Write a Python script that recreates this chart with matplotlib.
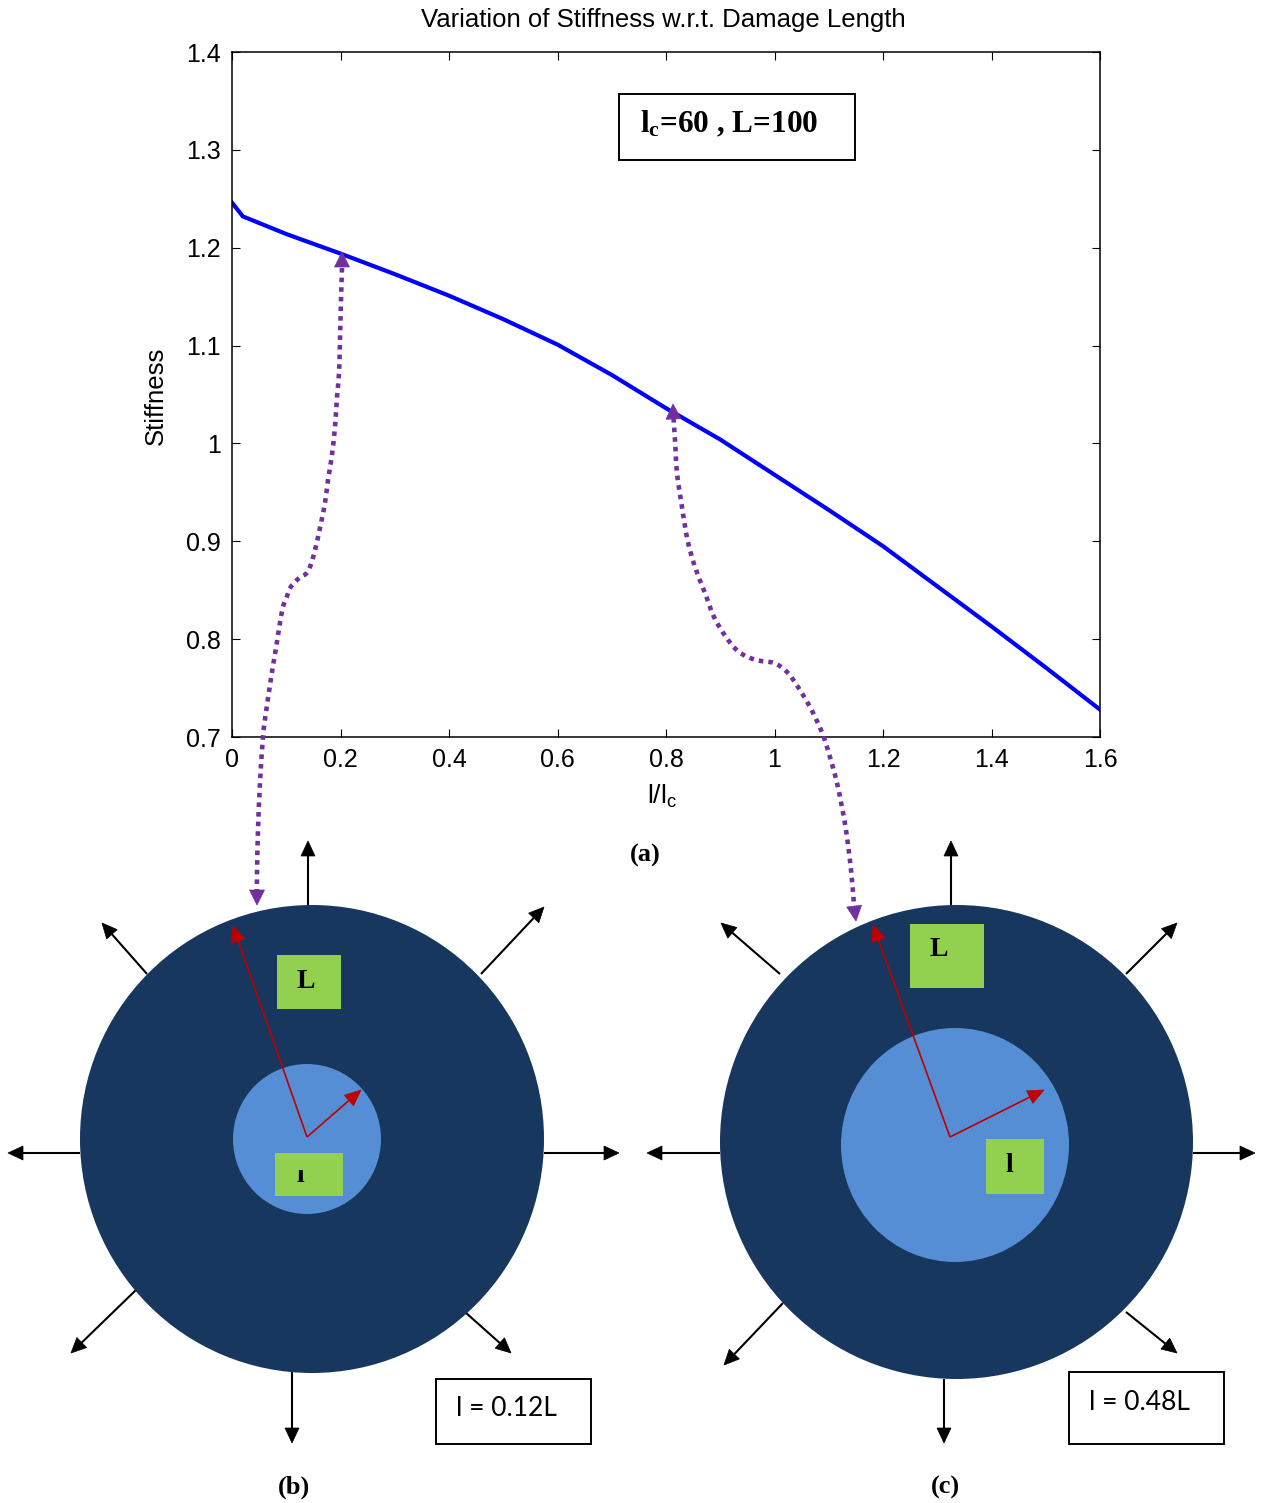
import numpy as np
import matplotlib
matplotlib.use("Agg")
import matplotlib.pyplot as plt
from matplotlib.patches import Ellipse, Rectangle, Polygon, PathPatch
from matplotlib.path import Path
from matplotlib.transforms import Bbox

plt.rcParams['font.family'] = ['Liberation Sans', 'DejaVu Sans']

# ---- stiffness curve -------------------------------------------------------
damage_ratio = [0.0, 0.02, 0.1, 0.2, 0.3, 0.4, 0.5, 0.6, 0.7, 0.8,
                0.9, 1.0, 1.1, 1.2, 1.3, 1.4, 1.5, 1.6]
stiffness = [1.246, 1.232, 1.214, 1.194, 1.173, 1.151, 1.127, 1.101, 1.070,
             1.036, 1.004, 0.968, 0.932, 0.895, 0.854, 0.813, 0.771, 0.728]

x_ticks = [0, 0.2, 0.4, 0.6, 0.8, 1.0, 1.2, 1.4, 1.6]
x_tick_labels = ["0", "0.2", "0.4", "0.6", "0.8", "1", "1.2", "1.4", "1.6"]
y_ticks = [0.7, 0.8, 0.9, 1.0, 1.1, 1.2, 1.3, 1.4]
y_tick_labels = ["0.7", "0.8", "0.9", "1", "1.1", "1.2", "1.3", "1.4"]

title_text = "Variation of Stiffness w.r.t. Damage Length"
case_text = ["l = 0.12L", "l = 0.48L"]
panel_text = ["(a)", "(b)", "(c)"]

# ---- figure ----------------------------------------------------------------
W, H = 1265, 1503
fig = plt.figure(figsize=(W / 100, H / 100), dpi=100)


def fbox(l, t, r, b):
    return [l / W, 1 - b / H, (r - l) / W, (b - t) / H]


ax = fig.add_axes(fbox(232, 52, 1100, 737))
ax.plot(damage_ratio, stiffness, color='#0000ff', lw=3.0, solid_joinstyle='round')
ax.set_xlim(0, 1.6)
ax.set_ylim(0.7, 1.4)
ax.set_xticks(x_ticks, x_tick_labels)
ax.set_yticks(y_ticks, y_tick_labels)
ax.tick_params(direction='in', length=6, width=0.8, top=True, right=True,
               labelsize=18, pad=8)
for s in ax.spines.values():
    s.set_linewidth(1.1)

fig.text(663 / W, 1 - 20 / H, title_text, ha='center', va='center', fontsize=18.5)
fig.text(156 / W, 1 - 396 / H, "Stiffness", ha='center', va='center',
         rotation=90, fontsize=18.5)
fig.text(662 / W, 1 - 796 / H, r"$\mathregular{l/l_c}$", ha='center',
         va='center', fontsize=19)

# ---- overlay in pixel units for the schematic drawings ---------------------
ov = fig.add_axes([0, 0, 1, 1], zorder=5)
ov.set_xlim(0, W)
ov.set_ylim(H, 0)
ov.axis('off')
ov.patch.set_alpha(0)

serif_bold = dict(family=['Liberation Serif', 'DejaVu Serif'], weight='bold')

NAVY = '#17375e'
LIGHT = '#558ed5'
GREEN = '#92d050'
RED = '#c00000'
PURPLE = '#7030a0'


def head(tip, frm, color, hl, hw, z=7):
    tip = np.asarray(tip, float)
    frm = np.asarray(frm, float)
    d = tip - frm
    d /= np.hypot(*d)
    n = np.array([-d[1], d[0]])
    base = tip - hl * d
    tri = Polygon([tip, base + hw * n, base - hw * n], closed=True,
                  facecolor=color, edgecolor=color, lw=0.5, zorder=z)
    ov.add_patch(tri)
    return base


def arrow(p0, p1, color, lw, hl, hw, z=7):
    base = head(p1, p0, color, hl, hw, z)
    ov.plot([p0[0], base[0]], [p0[1], base[1]], color=color, lw=lw,
            solid_capstyle='butt', zorder=z)


def smooth_path(pts):
    P = np.asarray(pts, float)
    verts = [P[0]]
    codes = [Path.MOVETO]
    n = len(P)
    for i in range(n - 1):
        p0 = P[i - 1] if i > 0 else P[i]
        p1 = P[i]
        p2 = P[i + 1]
        p3 = P[i + 2] if i + 2 < n else P[i + 1]
        verts += [p1 + (p2 - p0) / 6, p2 - (p3 - p1) / 6, p2]
        codes += [Path.CURVE4] * 3
    return Path(verts, codes)


def panel(outer, inner, red_origin, red_tips, l_box, l_text, s_box, s_text,
          s_clip, black, case_box, case_pos, label):
    (ocx, ocy, orx, ory) = outer
    (icx, icy, irx, iry) = inner
    ov.add_patch(Ellipse((ocx, ocy), 2 * orx, 2 * ory, facecolor=NAVY,
                         edgecolor='none', zorder=3))
    ov.add_patch(Ellipse((icx, icy), 2 * irx, 2 * iry, facecolor=LIGHT,
                         edgecolor='none', zorder=4))
    for p0, p1 in black:
        arrow(p0, p1, 'black', 1.5, 15, 7, z=2)
    # radius arrows
    for tip in red_tips:
        arrow(red_origin, tip, RED, 1.2, 16, 7, z=8)
    # labels on green boxes
    x0, y0, x1, y1 = l_box
    ov.add_patch(Rectangle((x0, y0), x1 - x0, y1 - y0, facecolor=GREEN,
                           edgecolor='none', zorder=6))
    ov.text(l_text[0], l_text[1], "L", ha='center', va='center', fontsize=20,
            zorder=9, **serif_bold)
    x0, y0, x1, y1 = s_box
    ov.add_patch(Rectangle((x0, y0), x1 - x0, y1 - y0, facecolor=GREEN,
                           edgecolor='none', zorder=6))
    t = ov.text(s_text[0], s_text[1], "l", ha='center', va='center',
                fontsize=20, zorder=9, **serif_bold)
    if s_clip is not None:
        pts = ov.transData.transform([[x0, y1], [x1, s_clip]])
        t.set_clip_box(Bbox(pts))
        t.set_clip_on(True)
    # case caption
    x0, y0, x1, y1 = case_box
    ov.add_patch(Rectangle((x0, y0), x1 - x0, y1 - y0, facecolor='white',
                           edgecolor='black', lw=1.4, zorder=6))
    ov.text(case_pos[0], case_pos[1], label, ha='left', va='center',
            fontsize=19, family=['Lato', 'DejaVu Sans'], zorder=9)


panel(outer=(312, 1139, 232, 234), inner=(307, 1139, 74, 75),
      red_origin=(307, 1137), red_tips=[(233, 926), (361, 1090)],
      l_box=(277, 955, 341, 1009), l_text=(306, 982),
      s_box=(275, 1153, 343, 1196), s_text=(300, 1175), s_clip=1170,
      black=[((308, 905), (308, 841)), ((147, 974), (102, 923)),
             ((481, 974), (544, 907)), ((80, 1153), (8, 1153)),
             ((544, 1153), (619, 1153)), ((137, 1289), (71, 1353)),
             ((465, 1312), (511, 1353)), ((292, 1372), (292, 1443))],
      case_box=(436, 1379, 591, 1444), case_pos=(456, 1408),
      label=case_text[0])

panel(outer=(956.5, 1142, 236.5, 237), inner=(955, 1145, 114, 117),
      red_origin=(950, 1137), red_tips=[(873, 925), (1044, 1090)],
      l_box=(910, 924, 984, 988), l_text=(939, 950),
      s_box=(986, 1139, 1044, 1194), s_text=(1009.5, 1165), s_clip=None,
      black=[((951, 905), (951, 841)), ((780, 974), (721, 923)),
             ((1126, 974), (1177, 923)), ((720, 1153), (647, 1153)),
             ((1193, 1153), (1255, 1153)), ((783, 1303), (724, 1365)),
             ((1126, 1312), (1177, 1353)), ((944, 1379), (944, 1443))],
      case_box=(1069, 1372, 1224, 1444), case_pos=(1089, 1402),
      label=case_text[1])

# ---- dotted purple connectors between curve points and the schematics ----
link_small = [(342, 268), (341, 300), (340, 340), (339, 373), (337, 397),
              (335, 427), (331.7, 457), (328, 480), (325, 503), (321, 523),
              (316.7, 543), (311.7, 562), (306.7, 573), (298, 579),
              (290.7, 587), (286.7, 597), (282.7, 608), (279.3, 627),
              (276, 648), (272.3, 670), (269.3, 690), (266, 712), (263, 737),
              (260, 783), (258, 830), (257, 873), (257, 891)]
link_large = [(673.5, 418), (675, 440), (677, 473), (682, 507), (687.5, 540),
              (695, 567), (705, 593), (714, 617), (726, 637), (739, 652),
              (756, 660), (774, 663), (787, 672), (798, 687), (810, 707),
              (821, 730), (827, 747), (837, 783), (845.5, 827), (851, 870),
              (854, 905)]

for pts, top_tip, bottom_tip in [(link_small, (342, 252), (257, 905)),
                                 (link_large, (673, 404), (856, 921))]:
    ov.add_patch(PathPatch(smooth_path(pts), facecolor='none',
                           edgecolor=PURPLE, lw=3.3, linestyle=(0, (1, 1.1)),
                           capstyle='butt', zorder=10))
    head(top_tip, pts[0], PURPLE, 15, 7.5, z=10)
    head(bottom_tip, pts[-1], PURPLE, 15, 7.5, z=10)

# ---- parameter box inside the chart ----------------------------------------
ov.add_patch(Rectangle((619, 94), 236, 66, facecolor='white',
                       edgecolor='black', lw=1.4, zorder=6))
ov.text(729, 124, r"$\mathregular{l_c}$=60 , L=100", ha='center', va='center',
        fontsize=22.5, zorder=9, **serif_bold)

# ---- panel labels ----------------------------------------------------------
ov.text(645, 855, panel_text[0], ha='center', va='center', fontsize=19,
        **serif_bold)
ov.text(294, 1487, panel_text[1], ha='center', va='center', fontsize=19,
        **serif_bold)
ov.text(945, 1487, panel_text[2], ha='center', va='center', fontsize=19,
        **serif_bold)

fig.savefig("out.png", dpi=100)
